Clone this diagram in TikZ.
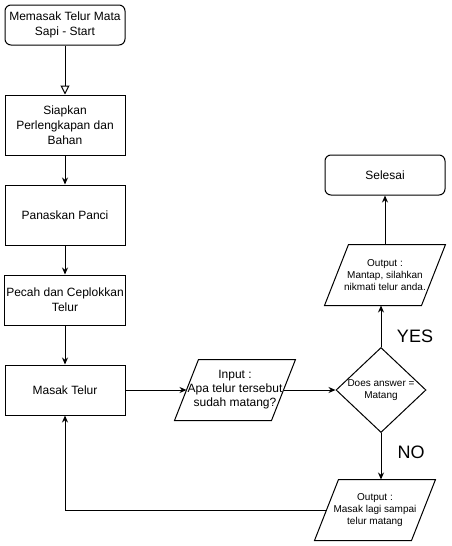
\documentclass[tikz,border=0pt]{standalone}
\usepackage{fontspec}
\setmainfont{Liberation Sans}
\usetikzlibrary{
		positioning,
		arrows.meta,
		shapes.geometric
	}
\tikzset{
		>={Stealth[length=7pt,width=6pt]},
		every path/.style={line width=1pt},
		procbox/.style={draw, minimum width=120pt, minimum height=60pt, align=center, inner sep=2pt, font=\fontsize{12}{15}\selectfont},
		termbox/.style={procbox, rounded corners=6pt, minimum height=40pt},
		iobox/.style={minimum width=120pt, minimum height=60pt, align=center, inner sep=1pt, font=\fontsize{10}{12}\selectfont},
		decbox/.style={draw, diamond, minimum width=90pt, minimum height=85pt, inner sep=0pt},
		answer/.style={font=\fontsize{18}{20}\selectfont}
	}
% outline of an input/output box (slant of 24 units)
\newcommand{\ioshape}[1]{\draw ([xshift=24pt]#1.north west) -- (#1.north east) -- ([xshift=-24pt]#1.south east) -- (#1.south west) -- cycle;}

\begin{document}
\begin{tikzpicture}[x=1pt, y=-1pt] % (1 unit = 1 pixel of the sketch, y goes down)
		\useasboundingbox (0,0) rectangle (452,546);
		% main column
		\node[termbox] (start) at (65,25) {Memasak Telur Mata\\Sapi - Start};
		\node[procbox] (prep) at (65,125) {Siapkan\\Perlengkapan dan\\Bahan};
		\node[procbox] (heat) at (65,215) {Panaskan Panci};
		\node[procbox, minimum height=50pt] (crack) at (65,300) {Pecah dan Ceplokkan\\Telur};
		\node[procbox, minimum height=50pt] (cook) at (65,390) {Masak Telur};
		% question and answers
		\node[iobox, font=\fontsize{12}{14}\selectfont] (ask) at (235,390) {Input :\\Apa telur tersebut\\sudah matang?};
		\node[decbox, label={[align=center, font=\fontsize{10}{12}\selectfont]center:Does answer =\\Matang}] (dec) at (381,390) {};
		\node[iobox] (yes) at (385,275) {Output :\\Mantap, silahkan\\nikmati telur anda.};
		\node[iobox] (no) at (375,510) {Output :\\Masak lagi sampai\\telur matang};
		\node[termbox] (done) at (385,175) {Selesai};
		\node[answer] (yeslbl) at (415,336) {YES};
		\node[answer] (nolbl) at (411,452) {NO};
		\ioshape{ask} \ioshape{yes} \ioshape{no}
		% connectors
		\draw[-{Triangle[open,length=9pt,width=9pt]}] (start) -- (prep);
		\draw[->] (prep) -- (heat);
		\draw[->] (heat) -- (crack);
		\draw[->] (crack) -- (cook);
		\draw[->] (cook) -- ([xshift=12pt]ask.west);
		\draw[->] ([xshift=-12pt]ask.east) -- (dec);
		\draw[->] (dec.north) -- (dec.north |- yes.south);
		\draw[->] (yes) -- (done);
		\draw[->] (dec.south) -- (dec.south |- no.north);
		\draw[->] ([xshift=12pt]no.west) -| (cook);
	\end{tikzpicture}
\end{document}
